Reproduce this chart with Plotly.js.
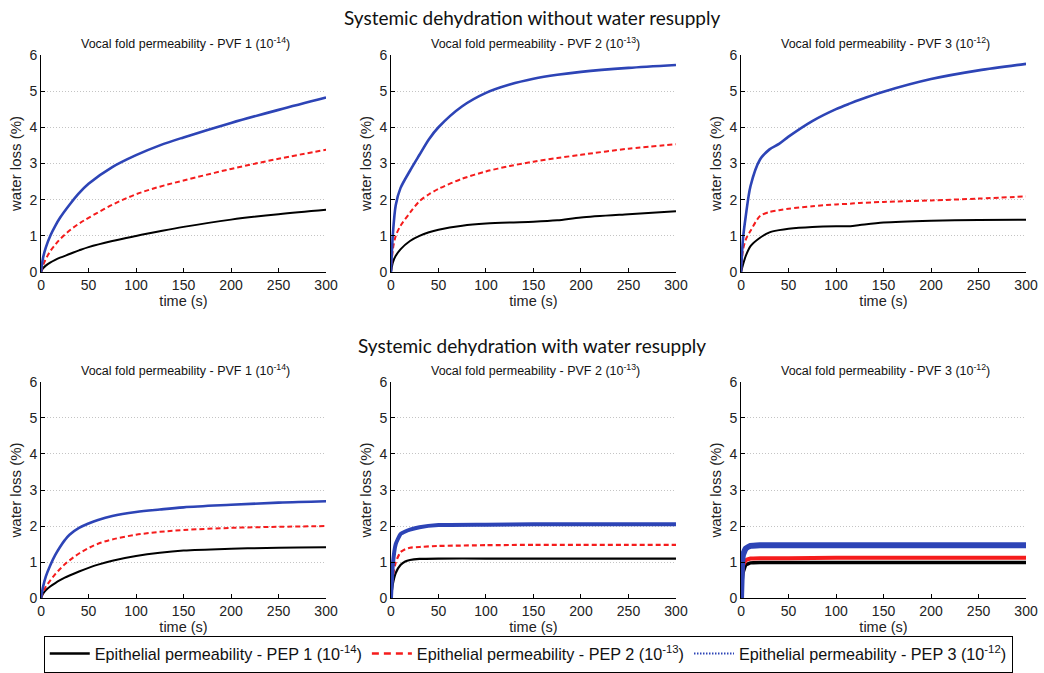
<!DOCTYPE html>
<html>
<head>
<meta charset="utf-8">
<script src="https://cdn.plot.ly/plotly-3.0.1.min.js"></script>
<style>html,body{margin:0;padding:0;background:#fff;}#chart{width:1044px;height:673px;}</style>
</head>
<body>
<div id="chart"></div>
<script>
// ---- data ----
const panelTitles = [
  "Vocal fold permeability - PVF 1 (10<sup>-14</sup>)",
  "Vocal fold permeability - PVF 2 (10<sup>-13</sup>)",
  "Vocal fold permeability - PVF 3 (10<sup>-12</sup>)",
  "Vocal fold permeability - PVF 1 (10<sup>-14</sup>)",
  "Vocal fold permeability - PVF 2 (10<sup>-13</sup>)",
  "Vocal fold permeability - PVF 3 (10<sup>-12</sup>)"
];
const rowTitles = ["Systemic dehydration without water resupply", "Systemic dehydration with water resupply"];
const seriesNames = [
  "Epithelial permeability - PEP 1 (10<sup>-14</sup>)",
  "Epithelial permeability - PEP 2 (10<sup>-13</sup>)",
  "Epithelial permeability - PEP 3 (10<sup>-12</sup>)"
];

// Top-left: without resupply, PVF 1
const tA = [0,2,5,10,15,20,30,40,50,75,100,125,150,200,250,300];
const blackA = [0,0.1,0.18,0.27,0.34,0.4,0.5,0.6,0.69,0.86,1.0,1.13,1.25,1.45,1.6,1.72];
const redA   = [0,0.18,0.36,0.59,0.76,0.91,1.15,1.34,1.5,1.86,2.15,2.36,2.53,2.85,3.13,3.38];
const blueA  = [0,0.38,0.68,1.02,1.28,1.5,1.86,2.18,2.44,2.9,3.23,3.5,3.72,4.12,4.48,4.82];

// Top-middle: without resupply, PVF 2
const tB = [0,2,5,10,20,30,40,50,75,100,125,150,175,200,250,300];
const blackB = [0,0.27,0.45,0.63,0.86,1.0,1.1,1.17,1.28,1.34,1.37,1.39,1.43,1.51,1.6,1.68];
const redB   = [0,0.63,1.0,1.28,1.64,1.96,2.15,2.3,2.58,2.78,2.93,3.05,3.15,3.24,3.41,3.53];
const blueB  = [0,1.05,1.85,2.32,2.8,3.24,3.67,4.0,4.58,4.95,5.18,5.34,5.45,5.53,5.64,5.72];

// Top-right: without resupply, PVF 3
const tC = [0,2,5,10,20,30,40,50,75,100,115,125,150,200,250,300];
const blackC = [0,0.2,0.45,0.72,0.95,1.1,1.16,1.2,1.25,1.27,1.27,1.3,1.37,1.42,1.44,1.45];
const redC   = [0,0.6,0.9,1.14,1.55,1.66,1.71,1.75,1.82,1.87,1.89,1.91,1.94,1.98,2.03,2.09];
const blueC  = [0,0.9,1.55,2.38,3.11,3.39,3.54,3.74,4.17,4.5,4.66,4.76,4.98,5.33,5.57,5.75];

// Bottom-left: with resupply, PVF 1
const tD = [0,2,5,10,15,20,25,30,40,50,60,75,100,125,150,200,250,300];
const blackD = [0,0.12,0.22,0.33,0.42,0.5,0.57,0.63,0.74,0.84,0.93,1.04,1.17,1.26,1.32,1.37,1.4,1.41];
const redD   = [0,0.16,0.32,0.5,0.67,0.81,0.94,1.05,1.24,1.39,1.51,1.63,1.76,1.84,1.89,1.95,1.98,2.0];
const blueD  = [0,0.3,0.6,0.93,1.2,1.42,1.61,1.76,1.95,2.07,2.17,2.28,2.39,2.46,2.52,2.59,2.65,2.69];

// Bottom-middle: with resupply, PVF 2
const tE = [0,2,5,10,15,20,30,50,100,150,200,250,300];
const blackE = [0,0.4,0.7,0.92,1.02,1.06,1.09,1.1,1.1,1.1,1.1,1.1,1.1];
const redE   = [0,0.6,1.0,1.28,1.36,1.4,1.42,1.45,1.47,1.48,1.48,1.48,1.48];
const blueE  = [0,0.95,1.5,1.78,1.85,1.9,1.97,2.03,2.04,2.05,2.05,2.05,2.05];

// Bottom-right: with resupply, PVF 3
const tF = [0,1,2,5,10,20,50,100,150,200,250,300];
const blackF = [0,0.4,0.7,0.92,0.98,0.99,0.99,0.99,0.99,0.99,0.99,0.99];
const redF   = [0,0.6,0.9,1.05,1.1,1.11,1.11,1.12,1.12,1.12,1.12,1.12];
const blueF  = [0,0.9,1.2,1.38,1.45,1.47,1.47,1.47,1.47,1.47,1.47,1.47];

const xTicks = [0,50,100,150,200,250,300];
const yTicks = [0,1,2,3,4,5,6];

// ---- styling ----
const BLACK = "#000000", RED = "#f51c1c", BLUE = "#2d44b6";
const FONT = "Liberation Sans, Arial, sans-serif";
const NARROW = "Liberation Sans Narrow, Arial Narrow, Liberation Sans, sans-serif";

const panels = [
  {t:tA, s:[blackA,redA,blueA], w:[2,2,2.6], sm:1},
  {t:tB, s:[blackB,redB,blueB], w:[2,2,2.6], sm:0.8},
  {t:tC, s:[blackC,redC,blueC], w:[2,2,2.6], sm:0.8},
  {t:tD, s:[blackD,redD,blueD], w:[2,2,2.6], sm:1},
  {t:tE, s:[blackE,redE,blueE], w:[2.2,2.2,4], sm:0.4},
  {t:tF, s:[blackF,redF,blueF], w:[3.5,4,6], sm:0.3}
];
const colors = [BLACK, RED, BLUE];
const dashes = ["solid", "5px,3px", "solid"];

const xDom = [[0.0393,0.3123],[0.3745,0.6475],[0.7098,0.9828]];
const yDom = [[0.5944,0.9183],[0.1085,0.4309]];

const traces = [];
panels.forEach((p, i) => {
  const ax = i === 0 ? "" : String(i+1);
  p.s.forEach((vals, k) => {
    const dash = (i === 5 && k === 1) ? "solid" : dashes[k];
    traces.push({
      type: "scatter", mode: "lines", x: p.t, y: vals,
      xaxis: "x"+ax, yaxis: "y"+ax,
      line: {color: colors[k], width: p.w[k], dash: dash, shape: "spline", smoothing: p.sm},
      showlegend: false, hoverinfo: "skip"
    });
  });
});
// legend entries
const legendDash = ["solid", "7px,5px", "1.5px,1.5px"];
seriesNames.forEach((nm, k) => {
  traces.push({
    type: "scatter", mode: "lines", x: [null], y: [null],
    xaxis: "x", yaxis: "y", name: nm,
    line: {color: colors[k], width: k === 2 ? 2 : 2.5, dash: legendDash[k]},
    showlegend: true
  });
});

const layout = {
  width: 1044, height: 673,
  margin: {l:0, r:0, t:0, b:0},
  paper_bgcolor: "#ffffff", plot_bgcolor: "#ffffff",
  font: {family: FONT, size: 14, color: "#222"},
  showlegend: true,
  legend: {
    orientation: "h", x: 0.506, xanchor: "center", y: 0.0253, yanchor: "middle",
    bordercolor: "#000", borderwidth: 1, bgcolor: "#fff",
    font: {family: NARROW, size: 16.2, color: "#111"},
    itemwidth: 40, tracegroupgap: 0
  },
  annotations: []
};

for (let i = 0; i < 6; i++) {
  const ax = i === 0 ? "" : String(i+1);
  const col = i % 3, row = Math.floor(i / 3);
  layout["xaxis"+ax] = {
    domain: xDom[col], anchor: "y"+ax, range: [0,300], tickvals: xTicks,
    showline: true, linecolor: "#000", linewidth: 1, ticks: "inside", ticklen: 4, tickcolor: "#000",
    showgrid: false, zeroline: false, fixedrange: true,
    tickfont: {family: FONT, size: 14, color: "#222"},
    title: {text: "time (s)", font: {family: FONT, size: 14.5, color: "#222"}, standoff: 1}
  };
  layout["yaxis"+ax] = {
    domain: yDom[row], anchor: "x"+ax, range: [0,6], tickvals: yTicks,
    showline: true, linecolor: "#000", linewidth: 1, ticks: "inside", ticklen: 4, tickcolor: "#000",
    showgrid: true, gridcolor: "#c4c4c4", griddash: "1px,2px", gridwidth: 1,
    zeroline: false, fixedrange: true,
    tickfont: {family: FONT, size: 14, color: "#222"},
    title: {text: "water loss (%)", font: {family: FONT, size: 15, color: "#222"}, standoff: 4}
  };
  layout.annotations.push({
    text: panelTitles[i], xref: "paper", yref: "paper",
    x: (xDom[col][0] + xDom[col][1]) / 2 + 0.002, y: yDom[row][1] + 0.003,
    xanchor: "center", yanchor: "bottom", showarrow: false,
    font: {family: FONT, size: 12.5, color: "#111"}
  });
}
rowTitles.forEach((txt, r) => {
  layout.annotations.push({
    text: txt, xref: "paper", yref: "paper",
    x: 0.51, y: r === 0 ? 1 - 18/673 : 1 - 347/673,
    xanchor: "center", yanchor: "middle", showarrow: false,
    font: {family: "Lato, Open Sans, sans-serif", size: 19, color: "#111"}
  });
});

Plotly.newPlot("chart", traces, layout, {staticPlot: true, displayModeBar: false});
</script>
</body>
</html>
